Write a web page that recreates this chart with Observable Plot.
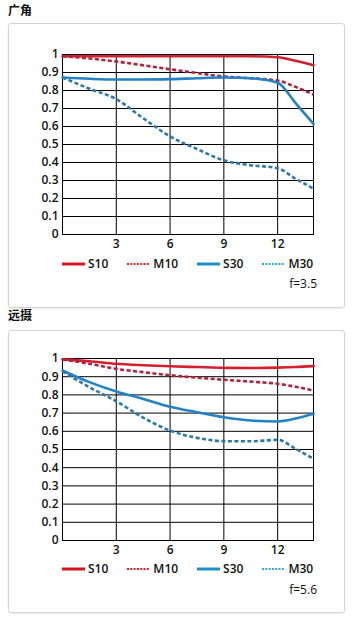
<!DOCTYPE html>
<html><head><meta charset="utf-8">
<script src="https://cdn.jsdelivr.net/npm/d3@7"></script>
<script src="https://cdn.jsdelivr.net/npm/@observablehq/plot@0.6"></script>
<style>
body{margin:0;background:#fff;width:352px;height:623px;overflow:hidden;position:relative;font-family:"Open Sans",sans-serif;}
.title{position:absolute;left:8px;font:bold 12px/16px "Noto Sans CJK SC",sans-serif;color:#111;}
.box{position:absolute;left:8px;width:335px;border:1px solid #d4d4d4;border-radius:3px;box-shadow:0 1px 2px rgba(0,0,0,0.08);}
.box svg{display:block;}
.legend{position:absolute;left:53px;display:flex;align-items:center;font:600 12px/16px "Open Sans",sans-serif;color:#111;white-space:nowrap;}
.legend .item{display:flex;align-items:center;margin-right:19px;}
.legend svg{margin-right:3px;}
.fnum{position:absolute;right:27px;font:500 12px/16px "Open Sans",sans-serif;color:#111;}
</style></head>
<body>
<script>
// ---- data ----
const xGrid = [0, 1.5, 3, 4.5, 6, 7.5, 9, 10.5, 12, 13, 14];
const xTicks = [3, 6, 9, 12];
const yTicks = [0, 0.1, 0.2, 0.3, 0.4, 0.5, 0.6, 0.7, 0.8, 0.9, 1];
const seriesNames = ["S10", "M10", "S30", "M30"];

const wideS10 = [0.99, 0.99, 0.99, 0.99, 0.99, 0.99, 0.99, 0.99, 0.985, 0.965, 0.94];
const wideM10 = [0.99, 0.978, 0.961, 0.94, 0.918, 0.897, 0.878, 0.868, 0.855, 0.82, 0.778];
const wideS30 = [0.872, 0.865, 0.861, 0.861, 0.863, 0.868, 0.872, 0.868, 0.843, 0.73, 0.615];
const wideM30 = [0.872, 0.81, 0.752, 0.646, 0.545, 0.475, 0.412, 0.385, 0.368, 0.31, 0.255];

const teleS10 = [0.995, 0.985, 0.971, 0.963, 0.957, 0.953, 0.949, 0.948, 0.95, 0.953, 0.958];
const teleM10 = [0.995, 0.971, 0.943, 0.925, 0.908, 0.895, 0.883, 0.873, 0.861, 0.845, 0.824];
const teleS30 = [0.934, 0.87, 0.819, 0.778, 0.735, 0.705, 0.677, 0.659, 0.654, 0.67, 0.696];
const teleM30 = [0.93, 0.842, 0.765, 0.675, 0.604, 0.564, 0.546, 0.545, 0.553, 0.504, 0.449];

const panels = [
  {title: "广角", fnum: "f=3.5", values: [wideS10, wideM10, wideS30, wideM30]},
  {title: "远摄", fnum: "f=5.6", values: [teleS10, teleM10, teleS30, teleM30]}
];

// ---- styles ----
const lineStyle = {
  S10: {stroke: "#d3202f", dash: null, legendStroke: "#d9161f"},
  M10: {stroke: "#b3213a", dash: "4 2.5", legendStroke: "#e0202a"},
  S30: {stroke: "#2282c4", dash: null, legendStroke: "#1d8fc4"},
  M30: {stroke: "#2c78ad", dash: "4 2.5", legendStroke: "#34a9d2"}
};
const layout = [
  {titleTop: 2, boxTop: 23, boxH: 283, marginTop: 30, height: 230, legendTop: 231.5, fTop: 252},
  {titleTop: 307, boxTop: 330, boxH: 281, marginTop: 27, height: 229, legendTop: 230, fTop: 251}
];

panels.forEach((p, i) => {
  const L = layout[i];
  const t = document.createElement("div");
  t.className = "title"; t.style.top = L.titleTop + "px"; t.textContent = p.title;
  document.body.appendChild(t);

  const box = document.createElement("div");
  box.className = "box"; box.style.top = L.boxTop + "px"; box.style.height = L.boxH + "px";
  document.body.appendChild(box);

  const data = [];
  seriesNames.forEach((s, k) => p.values[k].forEach((v, j) => data.push({series: s, x: xGrid[j], y: v})));

  const lineMarks = seriesNames.map(s => Plot.line(data.filter(d => d.series === s), {
    x: "x", y: "y", stroke: lineStyle[s].stroke, strokeWidth: 2.6,
    strokeDasharray: lineStyle[s].dash || undefined,
    strokeLinecap: lineStyle[s].dash ? "butt" : "round",
    curve: "monotone-x"
  }));

  const chart = Plot.plot({
    width: 335, height: L.height,
    marginLeft: 53, marginRight: 31, marginTop: L.marginTop, marginBottom: 20,
    style: {fontFamily: "Open Sans, sans-serif", fontSize: "12px", fontWeight: 600, color: "#111", background: "transparent", overflow: "visible"},
    x: {domain: [0, 14], label: null},
    y: {domain: [0, 1], label: null},
    marks: [
      Plot.gridY(yTicks, {stroke: "#000", strokeOpacity: 1, strokeWidth: 1}),
      Plot.gridX(xTicks, {stroke: "#000", strokeOpacity: 1, strokeWidth: 1}),
      Plot.frame({stroke: "#000", strokeWidth: 1}),
      Plot.axisY(yTicks, {tickSize: 0, tickPadding: 4, tickFormat: d => d === 0 ? "0" : d === 1 ? "1" : d3.format(".1f")(d), label: null}),
      Plot.axisX(xTicks, {tickSize: 0, tickPadding: 5, tickFormat: d => String(d), label: null}),
      ...lineMarks
    ]
  });
  box.appendChild(chart);

  const lg = document.createElement("div");
  lg.className = "legend"; lg.style.top = L.legendTop + "px";
  seriesNames.forEach(s => {
    const st = lineStyle[s];
    const it = document.createElement("div"); it.className = "item";
    const dash = st.dash ? 'stroke-dasharray="2 1.3" stroke-width="2"' : 'stroke-width="3"';
    it.innerHTML = `<svg width="23" height="8"><line x1="0" x2="23" y1="4" y2="4" stroke="${st.legendStroke}" ${dash}/></svg><span>${s}</span>`;
    lg.appendChild(it);
  });
  box.appendChild(lg);

  const f = document.createElement("div");
  f.className = "fnum"; f.style.top = L.fTop + "px"; f.textContent = p.fnum;
  box.appendChild(f);
});
</script>
</body></html>
